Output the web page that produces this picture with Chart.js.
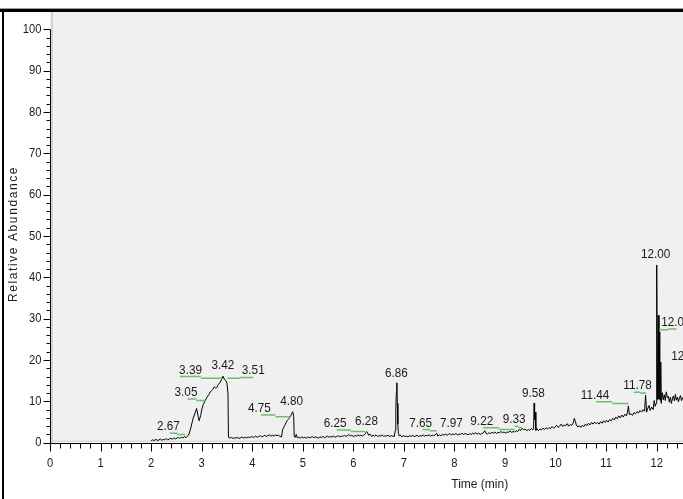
<!DOCTYPE html>
<html>
<head>
<meta charset="utf-8">
<script src="https://cdn.jsdelivr.net/npm/chart.js@4/dist/chart.umd.min.js"></script>
<style>
  html, body { margin: 0; padding: 0; overflow: hidden; background: #fff; width: 683px; height: 499px; }
  canvas { display: block; }
</style>
</head>
<body>
<canvas id="chrom" width="920" height="499" style="width:920px;height:499px"></canvas>
<script>
// Chromatogram trace: retention time (min) and relative abundance (%)
const retentionTime = [
  2.00, 2.03, 2.06, 2.09, 2.12, 2.15, 2.18, 2.21, 2.24, 2.27, 2.30, 2.33, 2.36, 2.39, 2.42, 2.45, 2.48, 2.51, 2.54, 2.57, 2.60, 2.63, 2.66, 2.69, 2.72, 2.75,
  2.79, 2.83, 2.87, 2.90, 2.93, 2.95, 2.98, 3.00, 3.03, 3.07, 3.11, 3.14, 3.17, 3.20, 3.22, 3.25, 3.28, 3.30, 3.33, 3.36, 3.39, 3.42, 3.45, 3.48, 3.50, 3.52, 3.53,
  3.56, 3.59, 3.62, 3.65, 3.68, 3.71, 3.74, 3.77, 3.80, 3.83, 3.86, 3.89, 3.92, 3.95, 3.98, 4.01, 4.04, 4.07, 4.10, 4.13, 4.16, 4.19, 4.22, 4.25, 4.28, 4.31, 4.34, 4.37, 4.40, 4.43, 4.46, 4.49, 4.52, 4.55, 4.58,
  4.60, 4.63, 4.65, 4.67, 4.69, 4.71, 4.73, 4.76, 4.78, 4.80, 4.82, 4.83, 4.85, 4.87, 4.89,
  4.92, 4.95, 4.98, 5.01, 5.04, 5.07, 5.10, 5.13, 5.16, 5.19, 5.22, 5.25, 5.28, 5.31, 5.34, 5.37, 5.40, 5.43, 5.46, 5.49, 5.52, 5.55, 5.58, 5.61, 5.64, 5.67, 5.70, 5.73, 5.76, 5.79,
  5.82, 5.85, 5.88, 5.91, 5.94, 5.97, 6.00, 6.03, 6.06, 6.09, 6.12, 6.15, 6.18, 6.21, 6.24, 6.26, 6.28, 6.30, 6.33, 6.36, 6.39, 6.42, 6.45, 6.48, 6.51, 6.54, 6.57, 6.60, 6.63, 6.66,
  6.69, 6.72, 6.75, 6.78, 6.81,
  6.83, 6.84, 6.85, 6.86, 6.87, 6.88, 6.89, 6.91, 6.93,
  6.96, 6.99, 7.02, 7.05, 7.08, 7.11, 7.14, 7.17, 7.20, 7.23, 7.26, 7.29, 7.32, 7.35, 7.38, 7.41, 7.44, 7.47, 7.50, 7.53, 7.56, 7.59, 7.62, 7.65, 7.67, 7.70, 7.73, 7.76, 7.79, 7.82,
  7.85, 7.88, 7.91, 7.94, 7.97, 8.00, 8.03, 8.06, 8.09, 8.12, 8.15, 8.18, 8.21, 8.24, 8.27, 8.30, 8.33, 8.36, 8.39, 8.42, 8.45, 8.48, 8.51, 8.54, 8.57, 8.60, 8.62, 8.65, 8.68, 8.71,
  8.74, 8.77, 8.80, 8.83, 8.86, 8.89, 8.92, 8.95, 8.98, 9.01, 9.04, 9.07, 9.10, 9.13, 9.16, 9.19, 9.22, 9.25, 9.28, 9.31, 9.34, 9.37, 9.40, 9.43, 9.46, 9.49, 9.52, 9.55,
  9.565, 9.575, 9.585, 9.595, 9.61, 9.63, 9.66,
  9.69, 9.72, 9.75, 9.78, 9.81, 9.84, 9.87, 9.90, 9.93, 9.96, 9.99, 10.02, 10.05, 10.08, 10.11, 10.14, 10.17, 10.20, 10.23, 10.26, 10.29, 10.32, 10.35, 10.37, 10.39, 10.41, 10.44,
  10.47, 10.50, 10.53, 10.56, 10.59, 10.62, 10.65, 10.68, 10.71, 10.74, 10.77, 10.80, 10.83, 10.86, 10.89, 10.92, 10.95, 10.98, 11.01, 11.04, 11.07, 11.10, 11.13, 11.16, 11.19,
  11.22, 11.25, 11.28, 11.31, 11.34, 11.37, 11.40, 11.42, 11.44, 11.46, 11.49, 11.52, 11.55, 11.58, 11.61, 11.64, 11.67, 11.70, 11.73, 11.76, 11.78, 11.80, 11.82, 11.85, 11.87,
  11.90, 11.93, 11.95, 11.97, 11.99,
  12.00, 12.015, 12.03, 12.045, 12.06, 12.07, 12.08, 12.09, 12.11, 12.13, 12.15, 12.17, 12.19, 12.21, 12.23, 12.25, 12.27, 12.29, 12.31, 12.33, 12.35, 12.37, 12.39, 12.41,
  12.43, 12.45, 12.47, 12.49, 12.51, 12.53, 12.55
];
const relAbundance = [
  0.5, 0.7, 0.5, 0.8, 0.6, 0.6, 0.9, 0.6, 0.8, 0.7, 1.0, 0.7, 0.9, 1.1, 0.8, 1.2, 0.9, 1.1, 1.3, 1.0, 1.4, 1.1, 1.5, 1.2, 1.6, 2.1,
  3.8, 5.9, 7.2, 8.3, 6.4, 5.3, 6.6, 7.9, 9.2, 10.2, 11.1, 11.6, 12.3, 12.6, 12.9, 13.5, 13.2, 13.4, 14.1, 14.5, 15.2, 16.1, 15.3, 15.0, 14.4, 12.0, 1.3,
  1.1, 1.3, 1.0, 1.2, 1.1, 1.3, 1.0, 1.2, 1.4, 1.1, 1.3, 1.2, 1.4, 1.2, 1.5, 1.3, 1.4, 1.6, 1.3, 1.5, 1.7, 1.4, 1.6, 1.8, 1.5, 1.7, 1.9, 1.6, 1.8, 1.6, 1.9, 1.7, 1.8, 1.5, 1.4,
  3.1, 3.9, 4.3, 4.9, 5.3, 5.6, 5.9, 6.5, 7.0, 7.5, 6.4, 1.5, 1.3, 2.0, 1.2,
  1.3, 1.1, 1.4, 1.2, 1.3, 1.1, 1.4, 1.2, 1.3, 1.5, 1.2, 1.4, 1.3, 1.1, 1.4, 1.3, 1.5, 1.2, 1.4, 1.6, 1.3, 1.5, 1.4, 1.6, 1.3, 1.5, 1.7, 1.4, 1.6, 1.5,
  1.8, 1.5, 1.7, 2.0, 1.6, 1.8, 1.5, 1.7, 1.6, 1.9, 1.7, 1.8, 1.6, 1.9, 2.2, 2.7, 2.5, 1.8, 2.1, 1.5, 1.8, 1.6, 1.9, 1.5, 1.7, 1.6, 1.9, 1.5, 1.7, 1.6,
  1.8, 1.5, 1.7, 1.6, 1.5,
  3.0, 8.0, 12.0, 14.5, 9.5, 4.5, 2.3, 1.6, 1.9,
  1.4, 1.7, 1.5, 1.6, 1.4, 1.7, 1.5, 1.8, 1.5, 1.6, 1.8, 1.5, 1.7, 1.6, 1.9, 1.6, 1.8, 1.7, 1.9, 1.6, 1.8, 1.7, 1.9, 2.3, 1.6, 1.9, 1.7, 2.0, 1.8, 2.1,
  1.8, 2.0, 2.2, 1.9, 2.1, 2.0, 2.2, 1.9, 2.1, 2.0, 2.3, 2.0, 2.2, 2.1, 1.9, 2.2, 2.0, 2.3, 2.1, 2.4, 2.1, 2.3, 2.0, 2.2, 2.4, 2.9, 2.3, 2.1, 2.4, 2.2,
  2.5, 2.3, 2.6, 2.2, 2.5, 2.4, 2.7, 2.4, 2.6, 2.3, 2.6, 2.5, 2.8, 2.5, 2.7, 2.6, 2.9, 2.7, 3.2, 3.0, 3.5, 3.1, 3.3, 2.9, 3.2, 3.0, 3.4, 3.1,
  3.3, 9.6, 5.5, 7.4, 3.0, 3.4, 2.9,
  3.3, 3.1, 3.5, 3.2, 3.6, 3.3, 3.7, 3.4, 3.9, 3.5, 3.8, 4.2, 3.7, 4.0, 4.5, 3.9, 4.3, 4.1, 4.6, 4.0, 4.4, 4.2, 4.8, 5.9, 5.2, 4.3, 3.8,
  4.1, 3.7, 4.2, 3.9, 4.5, 4.1, 4.7, 4.3, 4.9, 4.5, 5.0, 4.6, 4.9, 4.5, 5.1, 4.7, 5.3, 4.9, 5.4, 5.0, 5.6, 5.3, 5.9, 5.5, 6.2,
  5.8, 6.5, 6.0, 6.7, 6.2, 6.9, 6.5, 7.2, 8.9, 6.8, 7.0, 6.6, 7.3, 7.0, 7.5, 7.2, 7.8, 7.4, 8.0, 7.6, 11.5, 7.4, 8.2, 9.0, 7.8,
  8.6, 8.0, 10.2, 8.8, 9.5,
  43.0, 10.5, 30.8, 10.5, 26.8, 10.2, 19.5, 9.5, 12.1, 10.4, 11.6, 10.2, 12.3, 10.9, 11.2, 9.8, 11.0, 9.5, 10.6, 11.3, 10.1, 11.7, 10.3, 11.0,
  9.9, 10.8, 11.4, 10.2, 10.9, 10.4, 11.1
];

// Peak annotations: text, anchor time, anchor height
const peakLabels  = ['2.67', '3.05', '3.39', '3.42', '3.51', '4.75', '4.80', '6.25', '6.28', '6.86', '7.65', '7.97', '9.22', '9.33', '9.58', '11.44', '11.78', '12.00', '12.06', '12.08'];
const labelTime   = [2.34, 2.69, 2.78, 3.42, 4.02, 4.14, 4.78, 5.64, 6.26, 6.85, 7.33, 7.94, 8.54, 9.18, 9.56, 10.78, 11.62, 11.98, 12.38, 12.58];
const labelHeight = [3.9, 12.1, 17.4, 18.8, 17.4, 8.3, 9.9, 4.7, 5.3, 16.9, 4.8, 4.8, 5.3, 5.7, 12.0, 11.5, 14.0, 45.7, 29.1, 21.0];

// Connector lines from displaced labels to their peaks (two-level steps)
const connectorFrom   = [2.37, 2.72, 2.57, 3.51, 4.17, 5.67, 7.37, 8.57, 9.19, 10.80, 11.55, 12.05];
const connectorTo     = [2.67, 3.07, 3.40, 4.02, 4.75, 6.23, 7.65, 9.19, 9.33, 11.44, 11.79, 12.39];
const connectorLevelA = [2.3, 10.6, 16.0, 15.6, 6.7, 3.1, 3.2, 3.6, 4.0, 9.9, 12.2, 27.3];
const connectorLevelB = [2.0, 10.2, 15.6, 15.8, 6.3, 2.7, 2.9, 3.2, 3.7, 9.5, 12.0, 27.5];

const xMajorTicks = [0, 1, 2, 3, 4, 5, 6, 7, 8, 9, 10, 11, 12, 13, 14, 15, 16, 17];
const yMajorTicks = [0, 10, 20, 30, 40, 50, 60, 70, 80, 90, 100];

const SANS = "'Liberation Sans', Arial, sans-serif";

// text squeezed horizontally to get the narrow instrument-software look
function narrowText(ctx, text, px, py, size, squeeze, align) {
  ctx.save();
  ctx.font = size + 'px ' + SANS;
  ctx.translate(px, py);
  ctx.scale(squeeze, 1);
  ctx.textAlign = align;
  ctx.textBaseline = 'middle';
  ctx.fillText(text, 0, 0);
  ctx.restore();
}

const chromDecor = {
  id: 'chromDecor',
  beforeDraw(chart) {
    const { ctx, chartArea: a, width, height } = chart;
    ctx.save();
    ctx.fillStyle = '#ffffff';
    ctx.fillRect(0, 0, width, height);
    // plot background
    ctx.fillStyle = '#f0f0f0';
    ctx.fillRect(a.left, 12, width - a.left, a.bottom - 12);
    ctx.fillStyle = '#d2d2d2';
    ctx.fillRect(a.left + 1, 12, 2, a.bottom - 12);
    ctx.fillRect(a.left, a.bottom - 2, width - a.left, 1);
    // outer frame
    ctx.fillStyle = '#a0a0a0';
    ctx.fillRect(0, 8, width, 1);
    ctx.fillStyle = '#000000';
    ctx.fillRect(0, 9, width, 3);
    ctx.fillRect(2, 9, 2, height - 9);
    ctx.restore();
  },
  afterDatasetsDraw(chart) {
    const { ctx, chartArea: a, scales: { x, y } } = chart;
    ctx.save();
    // axes lines
    ctx.strokeStyle = '#000';
    ctx.lineWidth = 1;
    const y0 = Math.round(y.getPixelForValue(0)) + 0.5;
    const yTop = Math.round(y.getPixelForValue(100)) + 0.5;
    const xL = Math.round(x.getPixelForValue(0)) + 0.5;
    ctx.beginPath();
    ctx.moveTo(xL, yTop); ctx.lineTo(xL, y0);
    ctx.moveTo(xL, y0); ctx.lineTo(chart.width, y0);
    // x ticks: major each minute, minor each 0.2 min
    for (let i = 0; i <= 17 * 5; i++) {
      const px = Math.round(x.getPixelForValue(i / 5)) + 0.5;
      const len = (i % 5 === 0) ? 8 : 5;
      ctx.moveTo(px, y0); ctx.lineTo(px, y0 + len);
    }
    // y ticks: major each 10, minor each 2
    for (let j = 0; j <= 50; j++) {
      const py = Math.round(y.getPixelForValue(j * 2)) + 0.5;
      const len = (j % 5 === 0) ? 7 : 4;
      ctx.moveTo(xL - len, py); ctx.lineTo(xL, py);
    }
    ctx.stroke();

    // tick labels
    ctx.fillStyle = '#1a1a1a';
    xMajorTicks.forEach(v => narrowText(ctx, String(v), x.getPixelForValue(v), y0 + 20, 13, 0.86, 'center'));
    yMajorTicks.forEach(v => narrowText(ctx, String(v), xL - 9, y.getPixelForValue(v), 13, 0.86, 'right'));

    // connectors
    ctx.strokeStyle = '#62c462';
    ctx.lineWidth = 1.5;
    ctx.beginPath();
    connectorFrom.forEach((f, i) => {
      const x1 = x.getPixelForValue(f);
      const x2 = x.getPixelForValue(connectorTo[i]);
      const xm = (x1 + x2) / 2;
      const ya = y.getPixelForValue(connectorLevelA[i]);
      const yb = y.getPixelForValue(connectorLevelB[i]);
      ctx.moveTo(x1, ya); ctx.lineTo(xm, ya);
      ctx.moveTo(xm, yb); ctx.lineTo(x2, yb);
    });
    ctx.stroke();

    // peak labels
    peakLabels.forEach((t, i) => {
      narrowText(ctx, t, x.getPixelForValue(labelTime[i]), y.getPixelForValue(labelHeight[i]), 13.5, 0.87, 'center');
    });

    // axis titles
    ctx.fillStyle = '#1a1a1a';
    ctx.font = '12px ' + SANS;
    ctx.textAlign = 'center';
    ctx.textBaseline = 'middle';
    ctx.fillText('Time (min)', (a.left + a.right) / 2, a.bottom + 42);
    ctx.translate(14, 234);
    ctx.rotate(-Math.PI / 2);
    ctx.letterSpacing = '1.6px';
    ctx.fillText('Relative Abundance', 0, 0);
    ctx.restore();
  }
};

new Chart(document.getElementById('chrom'), {
  type: 'line',
  data: {
    datasets: [{
      data: retentionTime.map((t, i) => ({ x: t, y: relAbundance[i] })),
      borderColor: '#000000',
      borderWidth: 1,
      pointRadius: 0,
      tension: 0,
      fill: false
    }]
  },
  options: {
    responsive: false,
    animation: false,
    devicePixelRatio: 1,
    layout: { padding: { top: 12, right: 10.5, left: 0, bottom: 0 } },
    plugins: { legend: { display: false }, tooltip: { enabled: false } },
    scales: {
      x: {
        type: 'linear', position: 'bottom', min: 0, max: 17,
        grid: { display: false }, border: { display: false },
        ticks: { display: false },
        afterBuildTicks: s => { s.ticks = xMajorTicks.map(v => ({ value: v })); },
        afterFit: s => { s.height = 56.3; }
      },
      y: {
        type: 'linear', position: 'left', min: 0, max: 104.2,
        grid: { display: false }, border: { display: false },
        ticks: { display: false },
        afterBuildTicks: s => { s.ticks = yMajorTicks.map(v => ({ value: v })); },
        afterFit: s => { s.width = 50; }
      }
    }
  },
  plugins: [chromDecor]
});
</script>
</body>
</html>
